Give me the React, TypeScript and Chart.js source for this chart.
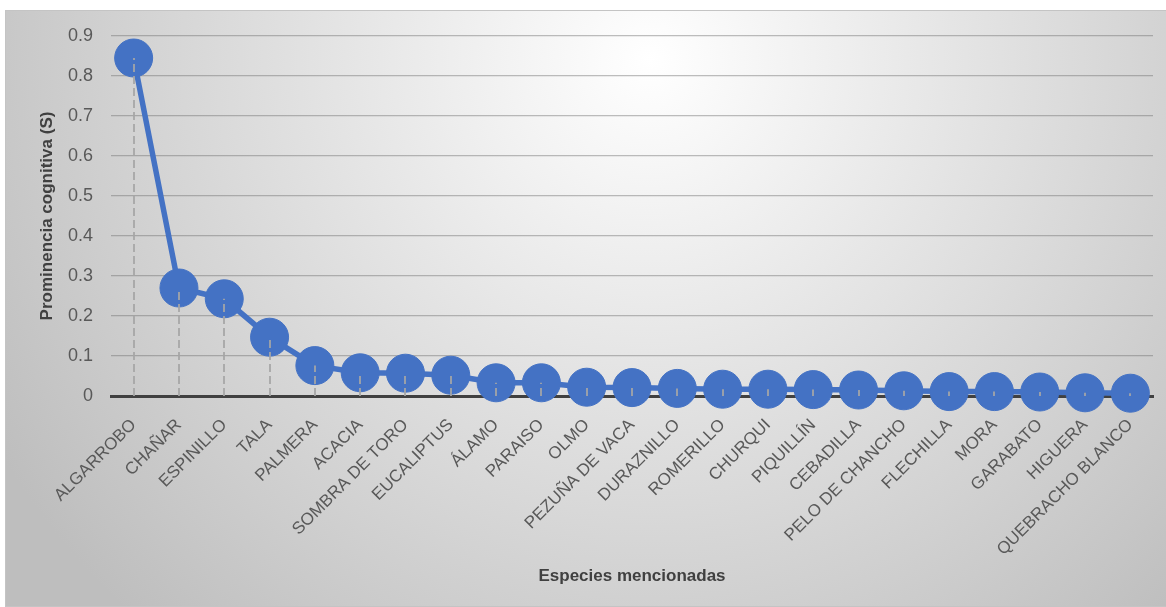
import React, { useEffect, useRef } from 'react';
import { Chart, registerables } from 'chart.js';

Chart.register(...registerables);

const categories: string[] = [
  'ALGARROBO', 'CHAÑAR', 'ESPINILLO', 'TALA', 'PALMERA', 'ACACIA', 'SOMBRA DE TORO',
  'EUCALIPTUS', 'ÁLAMO', 'PARAISO', 'OLMO', 'PEZUÑA DE VACA', 'DURAZNILLO', 'ROMERILLO',
  'CHURQUI', 'PIQUILLÍN', 'CEBADILLA', 'PELO DE CHANCHO', 'FLECHILLA', 'MORA',
  'GARABATO', 'HIGUERA', 'QUEBRACHO BLANCO',
];

const prominence: number[] = [
  0.845, 0.27, 0.243, 0.147, 0.076, 0.058, 0.057, 0.052, 0.033, 0.033, 0.022, 0.021,
  0.019, 0.017, 0.017, 0.016, 0.015, 0.013, 0.011, 0.011, 0.010, 0.008, 0.007,
];

const yMin = 0;
const yMax = 0.9;
const yStep = 0.1;

const yAxisTitle = 'Prominencia cognitiva (S)';
const xAxisTitle = 'Especies mencionadas';

const W = 1166;
const H = 607;
const FONT = "'Liberation Sans', Arial, sans-serif";

const backgroundPlugin = {
  id: 'bgPanel',
  beforeDraw(chart: any) {
    const ctx = chart.ctx;
    ctx.save();
    const g = ctx.createRadialGradient(650, 60, 0, 650, 60, 760);
    g.addColorStop(0, '#ffffff');
    g.addColorStop(1, '#bebebe');
    ctx.fillStyle = g;
    ctx.fillRect(5, 10, 1161, 596);
    ctx.strokeStyle = '#c4c4c4';
    ctx.lineWidth = 1;
    ctx.strokeRect(5.5, 10.5, 1161, 596);
    ctx.restore();
  },
};

const dropLinesPlugin = {
  id: 'dropLines',
  afterDatasetsDraw(chart: any) {
    const ctx = chart.ctx;
    const meta = chart.getDatasetMeta(0);
    const bottom = chart.chartArea.bottom;
    ctx.save();
    ctx.setLineDash([8, 4]);
    ctx.strokeStyle = '#a6a6a6';
    ctx.lineWidth = 1.75;
    meta.data.forEach((pt: any) => {
      ctx.beginPath();
      ctx.moveTo(Math.round(pt.x), bottom);
      ctx.lineTo(Math.round(pt.x), pt.y);
      ctx.stroke();
    });
    ctx.restore();
  },
};

export default function App() {
  const ref = useRef<HTMLCanvasElement | null>(null);

  useEffect(() => {
    if (!ref.current) return;
    const chart = new Chart(ref.current, {
      type: 'line',
      data: {
        labels: categories,
        datasets: [
          {
            data: prominence,
            borderColor: '#4472C4',
            backgroundColor: '#4472C4',
            borderWidth: 5.5,
            pointRadius: 19,
            pointHoverRadius: 19,
            pointBackgroundColor: '#4472C4',
            pointBorderColor: '#4472C4',
            pointBorderWidth: 1,
            tension: 0,
            clip: false as any,
          },
        ],
      },
      options: {
        responsive: false,
        animation: false,
        devicePixelRatio: 1,
        layout: { autoPadding: false, padding: { left: 0, top: 36, right: 13, bottom: 0 } },
        plugins: {
          legend: { display: false },
          tooltip: { enabled: false },
        },
        scales: {
          x: {
            type: 'category',
            offset: true,
            grid: { display: false, drawTicks: false },
            border: { display: true, color: '#404040', width: 3 },
            ticks: {
              autoSkip: false,
              maxRotation: 45,
              minRotation: 45,
              padding: 19,
              color: '#595959',
              font: { family: FONT, size: 17 },
            },
            title: {
              display: true,
              text: xAxisTitle,
              color: '#404040',
              font: { family: FONT, size: 17, weight: 'bold' },
              padding: { top: 0, bottom: 20 },
            },
            afterFit: (s: any) => {
              s.height = H - 396;
              s.paddingLeft = 0;
              s.paddingRight = 0;
            },
          },
          y: {
            min: yMin,
            max: yMax,
            grid: { color: 'rgba(110,110,110,0.45)', lineWidth: 1.25, drawTicks: false },
            border: { display: false },
            ticks: {
              stepSize: yStep,
              padding: 18,
              color: '#595959',
              font: { family: FONT, size: 18 },
              callback: (v: any) => String(Math.round(Number(v) * 10) / 10),
            },
            title: {
              display: true,
              text: yAxisTitle,
              color: '#404040',
              font: { family: FONT, size: 17, weight: 'bold' },
              padding: { top: 37, bottom: 0 },
            },
            afterFit: (s: any) => {
              s.width = 111;
              s.paddingTop = 0;
              s.paddingBottom = 0;
            },
          },
        },
      },
      plugins: [backgroundPlugin, dropLinesPlugin],
    });
    return () => chart.destroy();
  }, []);

  return (
    <div style={{ position: 'fixed', left: 0, top: 0, width: W, height: H }}>
      <canvas ref={ref} width={W} height={H} style={{ width: W, height: H, display: 'block' }} />
    </div>
  );
}
